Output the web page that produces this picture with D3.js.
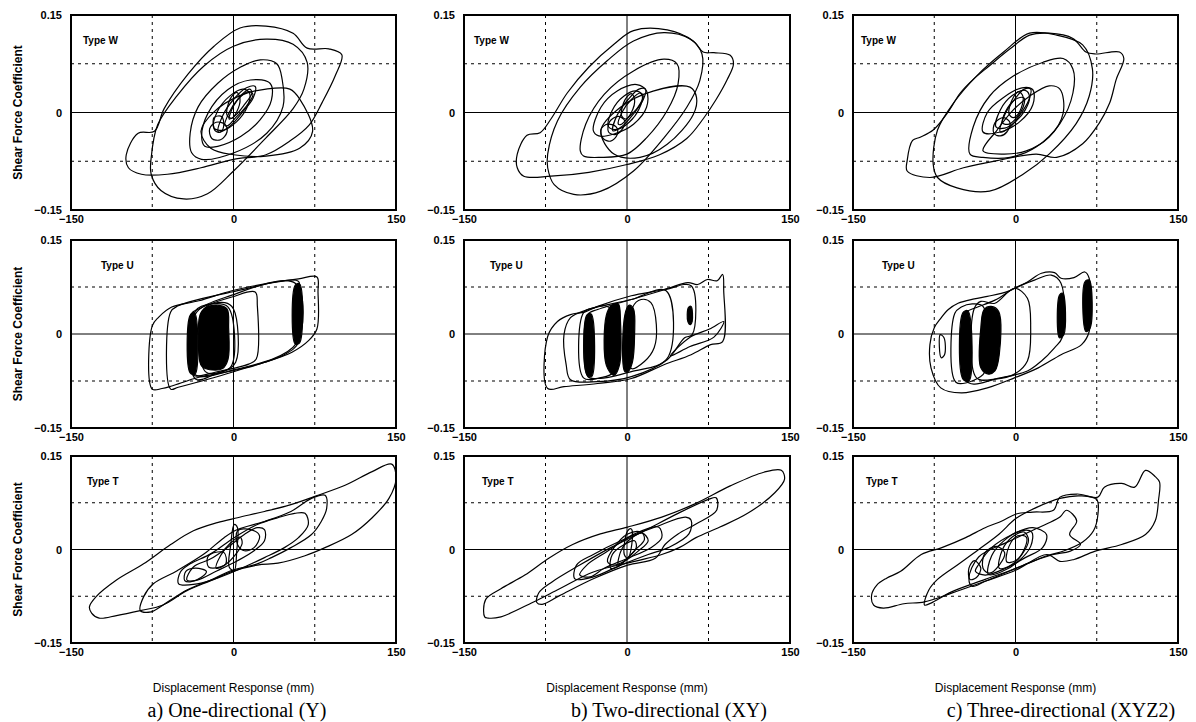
<!DOCTYPE html>
<html>
<head>
<meta charset="utf-8">
<script src="https://cdn.jsdelivr.net/npm/d3@7"></script>
<style>
  body { margin: 0; background: #fff; }
  svg { display: block; }
</style>
</head>
<body>
<div id="chart"></div>
<script>
// axis setup shared by all nine panels
xTicks = [-150, 0, 150];
yTicks = [-0.15, 0, 0.15];
xGrid = [-75, 75];
yGrid = [-0.075, 0.075];

rowTypes = ["Type W", "Type U", "Type T"];
captions = ["a) One-directional (Y)", "b) Two-directional (XY)", "c) Three-directional (XYZ2)"];
xTitle = "Displacement Response (mm)";
yTitle = "Shear Force Coefficient";

// hysteresis loops, [displacement mm, shear force coefficient]
loopsWa = [
  [[-99,-0.065],[-88,-0.032],[-73,-0.029],[-64,0.006],[-42,0.059],[-18,0.102],[6,0.130],[30,0.133],[55,0.122],[68,0.099],[88,0.098],[100,0.089],[94,0.057],[82,0.016],[70,-0.019],[52,-0.044],[30,-0.065],[0,-0.072],[-30,-0.085],[-61,-0.095],[-85,-0.095],[-97,-0.085]],
  [[-76,-0.070],[-70,-0.019],[-52,0.026],[-27,0.072],[0,0.102],[30,0.113],[55,0.105],[68,0.077],[65,0.036],[55,0.006],[30,-0.039],[0,-0.090],[-24,-0.125],[-46,-0.133],[-67,-0.120],[-76,-0.095]],
  [[-40,-0.032],[-32.5,0.009],[-14.5,0.045],[6.6,0.070],[24.7,0.081],[40,0.075],[45,0.050],[45.7,0.009],[30.7,-0.032],[0.5,-0.062],[-29.5,-0.072],[-38.6,-0.062]],
  [[-30,-0.029],[-18,0.001],[6,0.026],[30,0.036],[52,0.036],[61,0.021],[73,-0.029],[61,-0.055],[30,-0.067],[0,-0.065],[-21,-0.055]],
  [[-29.4,-0.037],[-23.5,-0.001],[-5.4,0.035],[15.6,0.050],[33.7,0.045],[35,0.019],[24.7,-0.011],[6.6,-0.037],[-14.5,-0.052],[-26.5,-0.052]],
  [[-18,-0.024],[-15,0.001],[-3,0.026],[9,0.036],[15,0.029],[12,0.006],[3,-0.014],[-9,-0.027]],
  [[-14,-0.030],[-10,-0.005],[0,0.020],[12,0.038],[20,0.040],[18,0.022],[8,0.000],[-4,-0.022]],
  [[-8,-0.020],[-4,0.000],[4,0.020],[14,0.032],[18,0.028],[12,0.010],[2,-0.008],[-5,-0.020]],
  [[-4,-0.010],[0,0.010],[8,0.028],[15,0.036],[17,0.030],[10,0.012],[2,-0.004]],
  [[-20,-0.040],[-22,-0.025],[-16,-0.015],[-8,-0.018],[-6,-0.030],[-12,-0.042]],
  [[-18,-0.008],[-11,-0.006],[-9,-0.020],[-12,-0.030],[-17,-0.028]],
  [[-6,-0.004],[-3,0.021],[3,0.031],[6,0.021],[3,0.001],[-1.5,-0.009]]
];
loopsWb = [
  [[-101,-0.085],[-101,-0.064],[-92,-0.035],[-80,-0.031],[-70,-0.010],[-55,0.030],[-35,0.070],[-12,0.105],[6,0.126],[37,0.127],[61,0.110],[70,0.093],[80,0.092],[95,0.088],[98,0.075],[92,0.050],[82,0.020],[70,-0.010],[55,-0.040],[30,-0.065],[0,-0.080],[-35,-0.092],[-70,-0.098],[-95,-0.098]],
  [[-73,-0.064],[-64,-0.013],[-43,0.039],[-18,0.080],[6,0.110],[34,0.123],[58,0.113],[69,0.090],[67,0.049],[55,0.008],[34,-0.039],[6,-0.090],[-24,-0.121],[-49,-0.126],[-67,-0.111],[-73,-0.085]],
  [[-43,-0.059],[-38,-0.018],[-21,0.028],[6,0.064],[34,0.082],[46,0.075],[47,0.044],[37,0.003],[18,-0.039],[0,-0.064],[-24,-0.069],[-40,-0.067]],
  [[-24,-0.028],[-6,0.008],[24,0.033],[58,0.039],[64,0.023],[61,-0.003],[37,-0.049],[12,-0.069],[-12,-0.064]],
  [[-31,-0.028],[-24,0.008],[-9,0.033],[9,0.043],[18,0.033],[18,0.008],[6,-0.018],[-12,-0.033],[-26,-0.036]],
  [[-17,-0.022],[-14,0.002],[-3,0.025],[9,0.033],[14,0.026],[11,0.005],[2,-0.015],[-9,-0.026]],
  [[-13,-0.028],[-9,-0.004],[1,0.020],[11,0.036],[17,0.036],[15,0.020],[6,-0.002],[-5,-0.022]],
  [[-8,-0.018],[-4,0.002],[4,0.020],[12,0.030],[15,0.025],[10,0.008],[1,-0.008],[-5,-0.018]],
  [[-17,-0.030],[-16,-0.014],[-8,-0.006],[-2,-0.013],[-5,-0.027],[-11,-0.034]],
  [[-22,-0.040],[-24,-0.026],[-18,-0.018],[-10,-0.022],[-9,-0.034],[-15,-0.044]],
  [[-5,-0.005],[-2,0.019],[4,0.029],[7,0.020],[4,0.000],[-1,-0.010]]
];
loopsWc = [
  [[-100,-0.090],[-100,-0.074],[-95,-0.043],[-88,-0.038],[-76,-0.027],[-63,-0.001],[-51,0.030],[-39,0.051],[-24,0.072],[-5,0.098],[13,0.119],[31,0.122],[53,0.114],[65,0.093],[74,0.090],[96,0.093],[100,0.083],[93,0.051],[87,0.015],[77,-0.017],[62,-0.048],[38,-0.069],[19,-0.064],[-17,-0.074],[-48,-0.085],[-79,-0.100]],
  [[-76,-0.079],[-72,-0.027],[-57,0.015],[-36,0.056],[-11,0.093],[13,0.122],[38,0.119],[62,0.104],[71,0.067],[68,0.025],[56,-0.017],[31,-0.064],[7,-0.095],[-24,-0.121],[-54,-0.116],[-72,-0.100]],
  [[-42,-0.064],[-39,-0.022],[-24,0.025],[-2,0.056],[25,0.077],[44,0.083],[53,0.067],[53,0.030],[41,-0.017],[19,-0.053],[-5,-0.069],[-30,-0.069]],
  [[-30,-0.059],[-17,-0.027],[-2,0.004],[13,0.025],[31,0.041],[41,0.036],[44,-0.001],[31,-0.038],[10,-0.059],[-11,-0.064]],
  [[-30,-0.030],[-26,0.000],[-12,0.022],[6,0.038],[16,0.035],[16,0.012],[4,-0.014],[-14,-0.030]],
  [[-18,-0.022],[-14,0.004],[-3,0.026],[9,0.034],[13,0.024],[9,0.004],[0,-0.014],[-10,-0.024]],
  [[-14,-0.030],[-10,-0.004],[-1,0.020],[8,0.036],[14,0.036],[12,0.018],[4,-0.004],[-6,-0.024]],
  [[-12,-0.016],[-7,0.008],[2,0.022],[8,0.022],[7,0.008],[1,-0.008],[-6,-0.018]],
  [[-20,-0.032],[-19,-0.016],[-11,-0.008],[-5,-0.016],[-8,-0.030],[-14,-0.036]],
  [[-6,-0.002],[-3,0.020],[3,0.032],[7,0.024],[4,0.002],[-2,-0.008]]
];

loopsUa = [
  [[-75,-0.088],[-75,0.013],[-69,0.027],[-57,0.043],[-32,0.053],[-1.5,0.069],[29,0.080],[60,0.088],[77,0.091],[78,0.067],[77,0.008],[69,-0.011],[54,-0.029],[29,-0.045],[-1.5,-0.059],[-32,-0.069],[-57,-0.083],[-66,-0.087]],
  [[-58,-0.088],[-58,0.035],[-51,0.045],[-1.5,0.067],[60,0.084],[60,0.067],[60,-0.013],[48,-0.032],[-1.5,-0.061],[-51,-0.085]],
  [[-38,-0.064],[-39,0.032],[-32,0.040],[-1.5,0.059],[20,0.067],[22,0.045],[21,-0.040],[14,-0.048],[-17,-0.061],[-35,-0.067]],
  [[-36,-0.064],[-36,0.030],[-1.5,0.062],[57,0.081],[58,-0.015],[-1.5,-0.058]],
  [[-35,-0.072],[-35,0.037],[-20,0.048],[-5,0.043],[-2,-0.051],[-17,-0.064]],
  [[-26,-0.060],[-27,0.040],[-8,0.050],[0,0.040],[2,-0.045],[-10,-0.060]]
];
bandsUa = [
  [[-31,-0.045],[-31,0.030],[-26,0.042],[-15,0.046],[-6,0.040],[-4.5,0.010],[-5,-0.040],[-10,-0.055],[-22,-0.057],[-29,-0.052]],
  [[-40,-0.062],[-40,0.030],[-36,0.034],[-35.5,-0.064]],
  [[57,-0.016],[57,0.078],[61,0.080],[61,-0.014]]
];
loopsUb = [
  [[-73,-0.087],[-73,-0.004],[-64,0.020],[-52,0.031],[-39,0.035],[-27,0.044],[4,0.061],[34,0.071],[56,0.082],[65,0.079],[74,0.087],[83,0.085],[88,0.095],[89,0.069],[88,-0.012],[77,-0.017],[59,-0.033],[34,-0.049],[4,-0.071],[-27,-0.079],[-58,-0.084]],
  [[-56,-0.049],[-58,-0.001],[-52,0.026],[-36,0.039],[4,0.055],[36,0.071],[59,0.077],[60,-0.001],[53,-0.006],[37,-0.041],[4,-0.068],[-27,-0.076],[-52,-0.073]],
  [[4,-0.055],[5,0.042],[13,0.055],[22,0.050],[27,0.015],[25,-0.022],[16,-0.044]],
  [[-36,-0.068],[-36,0.031],[-27,0.039],[4,0.055],[36,0.069],[37,-0.039],[4,-0.060],[-27,-0.071]],
  [[-40,-0.070],[-40,0.034],[-30,0.042],[-20,0.045],[-15,0.040],[-12,-0.060],[-25,-0.070]],
  [[89,0.020],[76,0.008],[58,-0.005],[40,-0.035],[58,-0.020],[80,-0.005]]
];
bandsUb = [
  [[-19,-0.050],[-19,0.030],[-14,0.046],[-8,0.048],[-6,0.020],[-7,-0.050],[-12,-0.066]],
  [[-2,-0.060],[-2,0.030],[2,0.046],[6,0.040],[7,0.000],[5,-0.045],[1,-0.060]],
  [[-36.5,-0.066],[-37,0.030],[-33,0.032],[-32.5,-0.068]],
  [[56,0.020],[56.5,0.042],[59,0.044],[60,0.020],[58.5,0.015]]
];
loopsUc = [
  [[-62,0.039],[-53,0.049],[-38,0.056],[-26,0.060],[-7,0.068],[11,0.083],[24,0.097],[36,0.098],[42,0.089],[54,0.090],[64,0.099],[68,0.089],[68,0.004],[61,-0.017],[42,-0.033],[21,-0.054],[-1,-0.070],[-26,-0.086],[-50,-0.094],[-69,-0.086],[-78,-0.054],[-79,-0.017],[-75,0.010],[-69,0.025]],
  [[-45.5,-0.075],[-46.5,0.033],[-38,0.041],[-19,0.054],[-1,0.073],[17.5,0.086],[33,0.094],[42,0.081],[43,-0.006],[36,-0.022],[24,-0.043],[11,-0.059],[-19,-0.072],[-38,-0.080]],
  [[-36,-0.070],[-38,0.041],[-32,0.052],[-19,0.049],[-1,0.073],[11,0.057],[14,0.010],[11,-0.043],[-1,-0.064],[-19,-0.072]],
  [[-55,-0.077],[-56,0.033],[-50,0.043],[-40,0.048],[-30,0.044],[-28,-0.060],[-40,-0.075]],
  [[-69.5,-0.001],[-68.6,-0.038],[-65.5,-0.033],[-66,-0.006]]
];
bandsUc = [
  [[-32,-0.054],[-32,0.010],[-29,0.039],[-22.5,0.044],[-15.5,0.036],[-15,-0.033],[-19,-0.059],[-25,-0.064]],
  [[65,0.004],[64,0.083],[68,0.086],[69,0.010]],
  [[40.6,-0.006],[40.6,0.062],[43.7,0.065],[44.6,-0.001]],
  [[-48.5,-0.072],[-48.5,0.034],[-44,0.037],[-43,-0.075]]
];

loopsTa = [
  [[-133,-0.092],[-131,-0.102],[-124,-0.110],[-108,-0.106],[-86,-0.098],[-65,-0.089],[-43,-0.066],[-21,-0.050],[-2.5,-0.036],[22,-0.025],[41,-0.022],[66,-0.010],[84.5,0.003],[109,0.024],[128,0.051],[143.5,0.082],[150,0.114],[146,0.137],[128,0.125],[103,0.103],[78,0.087],[53,0.072],[28.6,0.061],[3.7,0.051],[-15,0.043],[-37,0.030],[-58,0.008],[-83,-0.023],[-108,-0.049],[-127,-0.076]],
  [[-86,-0.098],[-83,-0.076],[-74,-0.055],[-52,-0.034],[-27,-0.007],[-8.7,0.019],[3.7,0.032],[28.6,0.045],[53,0.061],[72,0.082],[84.5,0.087],[86,0.066],[81,0.045],[72,0.024],[53,0.003],[35,-0.013],[22,-0.023],[-2.5,-0.034],[-21,-0.049],[-43,-0.065],[-65,-0.089],[-76,-0.100]],
  [[-50.6,-0.055],[-49,-0.036],[-40,-0.023],[-21,-0.007],[0.6,0.019],[22,0.040],[41,0.051],[56.5,0.058],[66,0.058],[69,0.040],[60,0.019],[47,0.003],[28.6,-0.013],[10,-0.028],[-12,-0.044],[-33.5,-0.055]],
  [[-43,-0.049],[-37,-0.028],[-21,-0.015],[-5.6,0.003],[10,0.024],[22,0.035],[28.6,0.032],[28.6,0.014],[19,-0.002],[3.7,-0.018],[-15,-0.034],[-33.5,-0.049]],
  [[-4,-0.028],[-2.5,0.008],[0.6,0.040],[3.7,0.035],[3,-0.002],[0.6,-0.034]],
  [[-24,-0.013],[-21,-0.007],[-8.7,-0.005],[-7,-0.023],[-12,-0.028],[-23,-0.028]],
  [[3.7,0.030],[16,0.032],[24,0.022],[19,0.003],[10,-0.002],[3.7,0.008]],
  [[-16,-0.030],[-12,-0.010],[-3,0.010],[6,0.020],[8,0.010],[2,-0.008],[-8,-0.025]],
  [[-45,-0.050],[-44,-0.035],[-35,-0.030],[-25,-0.035],[-30,-0.045],[-40,-0.052]]
];
loopsTb = [
  [[-131,-0.108],[-130,-0.080],[-116,-0.063],[-94,-0.041],[-72,-0.014],[-50,0.008],[-24.5,0.025],[0.6,0.036],[32,0.052],[63.5,0.074],[95,0.102],[126,0.124],[142,0.127],[145,0.113],[136,0.091],[111,0.058],[85.5,0.036],[63.5,0.019],[48,0.003],[32,-0.008],[7,-0.019],[-31,-0.036],[-62,-0.063],[-87,-0.085],[-116,-0.108],[-128,-0.110]],
  [[-83,-0.085],[-81,-0.069],[-69,-0.052],[-43.5,-0.025],[-15,0.003],[16,0.030],[47,0.058],[74.5,0.080],[82,0.083],[82.5,0.063],[63.5,0.041],[47,0.025],[35,0.008],[26,-0.014],[0.6,-0.025],[-31,-0.047],[-62,-0.074],[-78,-0.088]],
  [[-48,-0.047],[-46.5,-0.025],[-31,-0.008],[-5.7,0.014],[26,0.036],[54,0.052],[59,0.047],[57,0.025],[38,0.003],[19.5,-0.008],[-5.7,-0.025],[-31,-0.044]],
  [[-43.5,-0.041],[-37,-0.025],[-18,-0.003],[7,0.025],[29,0.036],[32,0.019],[22,0.003],[0.6,-0.014],[-21,-0.030],[-34,-0.044]],
  [[-18,-0.019],[-12,0.003],[0.6,0.025],[13,0.028],[19.5,0.014],[10,-0.003],[-2.5,-0.019],[-12,-0.025]],
  [[-15,-0.030],[-13.5,-0.008],[-2.5,0.008],[7,0.014],[8.5,0.003],[0.6,-0.014],[-9,-0.028]],
  [[-2.5,-0.008],[0.6,0.030],[4,0.033],[4.4,0.008],[0.6,-0.014]],
  [[-8,-0.025],[-5,0.000],[4,0.018],[14,0.026],[16,0.016],[8,0.000],[-2,-0.018]]
];
loopsTc = [
  [[-132.8,-0.073],[-131,-0.089],[-122,-0.094],[-103,-0.087],[-84,-0.084],[-59,-0.070],[-28,-0.051],[0.6,-0.033],[29,-0.008],[41,-0.019],[54,-0.016],[73,-0.003],[98,0.008],[120,0.024],[129,0.046],[132,0.079],[133,0.108],[129,0.117],[120,0.127],[110,0.100],[98,0.106],[82,0.100],[76,0.084],[57,0.089],[41,0.084],[35,0.063],[16,0.060],[0.6,0.057],[-12,0.046],[-28,0.035],[-46,0.019],[-68,0.003],[-87,-0.008],[-106,-0.035],[-119,-0.046],[-128,-0.057]],
  [[-84,-0.089],[-80,-0.065],[-72,-0.048],[-53,-0.024],[-34,0.000],[-15,0.025],[0.6,0.050],[20,0.068],[41,0.082],[60,0.086],[75,0.080],[76,0.055],[72,0.030],[62,0.012],[45,-0.002],[29,-0.010],[0.6,-0.030],[-28,-0.048],[-59,-0.068],[-78,-0.086]],
  [[-43,-0.046],[-34,-0.012],[-6,0.013],[16,0.031],[28.6,0.041],[41,0.052],[47,0.063],[56.5,0.046],[50,0.024],[60,0.008],[50,-0.003],[35,-0.008],[16,-0.019],[-6,-0.035],[-28,-0.051],[-40,-0.059]],
  [[-34,-0.024],[-22,0.003],[-3,0.024],[16,0.035],[28.6,0.024],[25,0.003],[9,-0.013],[-9,-0.030],[-28,-0.041],[-37,-0.035]],
  [[-25,-0.040],[-22,-0.010],[-10,0.015],[5,0.030],[15,0.028],[14,0.005],[2,-0.020],[-12,-0.035]],
  [[-15,-0.030],[-12,0.000],[-3,0.020],[8,0.028],[12,0.015],[6,-0.008],[-4,-0.025]],
  [[-8,-0.020],[-6,0.005],[2,0.022],[10,0.020],[8,0.000],[0,-0.018]],
  [[-30,-0.030],[-28,-0.005],[-18,0.005],[-10,-0.005],[-15,-0.025],[-24,-0.038]],
  [[-43,-0.030],[-38,-0.018],[-32,-0.030],[-36,-0.045],[-42,-0.048]]
];

var width = 1196, height = 722;
var colX = [[71, 396], [464, 790], [853, 1178]];
var rowY = [[15, 210], [240, 428], [456, 643]];
var typeOffset = [[12, 10, 8], [30, 26, 29], [16, 18, 13]];
var captionX = [237, 669, 1061];

var panels = [
  { row: 0, col: 0, loops: loopsWa, bands: [] },
  { row: 0, col: 1, loops: loopsWb, bands: [] },
  { row: 0, col: 2, loops: loopsWc, bands: [] },
  { row: 1, col: 0, loops: loopsUa, bands: bandsUa },
  { row: 1, col: 1, loops: loopsUb, bands: bandsUb },
  { row: 1, col: 2, loops: loopsUc, bands: bandsUc },
  { row: 2, col: 0, loops: loopsTa, bands: [] },
  { row: 2, col: 1, loops: loopsTb, bands: [] },
  { row: 2, col: 2, loops: loopsTc, bands: [] }
];

var fmtY = function(d) { return d === 0 ? "0" : (d < 0 ? "\u22120" : "0") + d3.format(".2f")(Math.abs(d)).slice(1); };
var fmtX = function(d) { return d < 0 ? "\u2212" + Math.abs(d) : "" + d; };

var svg = d3.select("#chart")
            .append("svg")
            .attr("width", width)
            .attr("height", height)
            .style("font-family", "'Liberation Sans', Arial, sans-serif");

svg.append("rect").attr("width", width).attr("height", height).attr("fill", "#fff");

panels.forEach(function(p) {
  var x0 = colX[p.col][0], x1 = colX[p.col][1];
  var y0 = rowY[p.row][0], y1 = rowY[p.row][1];
  var x = d3.scaleLinear().domain([-150, 150]).range([x0, x1]);
  var y = d3.scaleLinear().domain([-0.15, 0.15]).range([y1, y0]);
  var g = svg.append("g");

  // dotted grid
  g.selectAll(".gx").data(xGrid).enter().append("line")
    .attr("x1", function(d) { return x(d); }).attr("x2", function(d) { return x(d); })
    .attr("y1", y0).attr("y2", y1)
    .attr("stroke", "#000").attr("stroke-width", 1).attr("stroke-dasharray", "3,4");
  g.selectAll(".gy").data(yGrid).enter().append("line")
    .attr("y1", function(d) { return y(d); }).attr("y2", function(d) { return y(d); })
    .attr("x1", x0).attr("x2", x1)
    .attr("stroke", "#000").attr("stroke-width", 1).attr("stroke-dasharray", "3,4");

  // zero axes
  g.append("line").attr("x1", x(0)).attr("x2", x(0)).attr("y1", y0).attr("y2", y1)
    .attr("stroke", "#000").attr("stroke-width", 1);
  g.append("line").attr("x1", x0).attr("x2", x1).attr("y1", y(0)).attr("y2", y(0))
    .attr("stroke", "#000").attr("stroke-width", 1);

  var line = d3.line()
    .x(function(d) { return x(d[0]); })
    .y(function(d) { return y(d[1]); })
    .curve(d3.curveCatmullRomClosed.alpha(0.5));

  g.selectAll(".band").data(p.bands).enter().append("path")
    .attr("d", line)
    .attr("fill", "#000").attr("stroke", "#000").attr("stroke-width", 1.2);

  g.selectAll(".loop").data(p.loops).enter().append("path")
    .attr("d", line)
    .attr("fill", "none").attr("stroke", "#000").attr("stroke-width", 1.2)
    .attr("stroke-linejoin", "round");

  // frame
  g.append("rect").attr("x", x0).attr("y", y0).attr("width", x1 - x0).attr("height", y1 - y0)
    .attr("fill", "none").attr("stroke", "#000").attr("stroke-width", 2);

  // axes labels
  var ay = g.append("g").attr("transform", "translate(" + x0 + ",0)")
    .call(d3.axisLeft(y).tickValues(yTicks).tickSize(0).tickPadding(9).tickFormat(fmtY));
  var ax = g.append("g").attr("transform", "translate(0," + y1 + ")")
    .call(d3.axisBottom(x).tickValues(xTicks).tickSize(0).tickPadding(5).tickFormat(fmtX));
  [ay, ax].forEach(function(a) {
    a.select(".domain").remove();
    a.selectAll("text").attr("font-size", 11).attr("font-weight", "bold")
      .attr("font-family", "'Liberation Sans', Arial, sans-serif").attr("fill", "#000");
  });

  g.append("text")
    .attr("x", x0 + typeOffset[p.row][p.col]).attr("y", y0 + 29)
    .attr("font-size", 10).attr("font-weight", "bold")
    .text(rowTypes[p.row]);

  if (p.col === 0) {
    g.append("text")
      .attr("transform", "translate(22," + ((y0 + y1) / 2) + ") rotate(-90)")
      .attr("text-anchor", "middle")
      .attr("font-size", 12).attr("font-weight", "bold")
      .text(yTitle);
  }
  if (p.row === 2) {
    g.append("text")
      .attr("x", (x0 + x1) / 2).attr("y", 692)
      .attr("text-anchor", "middle")
      .attr("font-size", 12)
      .text(xTitle);
    g.append("text")
      .attr("x", captionX[p.col]).attr("y", 717)
      .attr("text-anchor", "middle")
      .attr("font-family", "'Liberation Serif', 'Times New Roman', serif")
      .attr("font-size", 20)
      .text(captions[p.col]);
  }
});
</script>
</body>
</html>
